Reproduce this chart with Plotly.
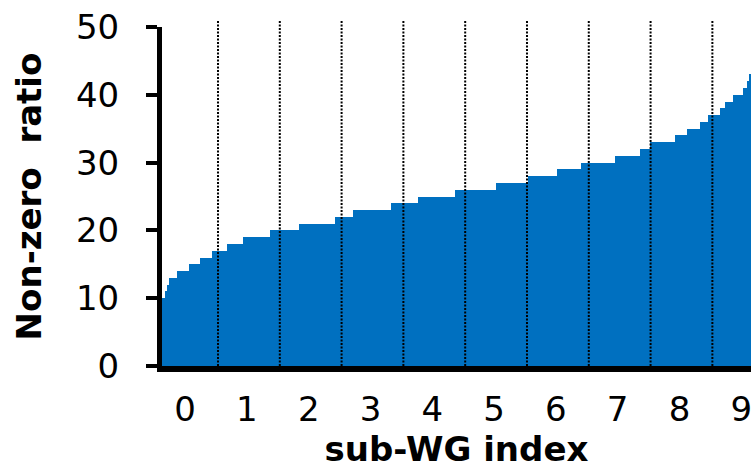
import plotly.graph_objects as go

# Sorted non-zero ratio per sub-WG, stored run-length encoded
start_index = 3
levels = [10, 11, 12, 13, 14, 15, 16, 17, 18, 19, 20, 21, 22, 23, 24, 25, 26, 27,
          28, 29, 30, 31, 32, 33, 34, 35, 36, 37, 38, 39, 40, 41, 42, 43]
counts = [2, 1, 1, 4, 6, 6, 6, 8, 8, 14, 15, 19, 9, 20, 14, 19, 21, 17,
          15, 12, 18, 13, 5, 13, 6, 7, 4, 6, 3, 4, 5, 2, 1, 1]
subwg_per_group = 32
group_labels = ["0", "1", "2", "3", "4", "5", "6", "7", "8", "9"]
y_ticks = [0, 10, 20, 30, 40, 50]

values = []
for lv, c in zip(levels, counts):
    values += [lv] * c
xs = [start_index + i + 0.5 for i in range(len(values))]
x_end = start_index + len(values)

BLUE = "#0070C0"
FONT = "DejaVu Sans"

fig = go.Figure()
fig.add_trace(go.Bar(x=xs, y=values, width=1, marker=dict(color=BLUE, line=dict(width=0)),
                     showlegend=False, hoverinfo="skip"))

group_centers = [subwg_per_group * (k + 0.5) for k in range(len(group_labels))]
boundaries = [subwg_per_group * (k + 1) for k in range(len(group_labels) - 1)]

shapes = []
for b in boundaries:
    shapes.append(dict(type="line", xref="x", yref="paper", x0=b, x1=b, y0=0, y1=1.02,
                       line=dict(color="black", width=2, dash="2px,1.5px"), layer="above"))

fig.update_layout(
    width=751, height=469,
    margin=dict(l=162, r=0, t=27, b=102.5, autoexpand=False),
    paper_bgcolor="white", plot_bgcolor="white",
    bargap=0, bargroupgap=0,
    shapes=shapes,
    font=dict(family=FONT, color="black", size=34),
    xaxis=dict(range=[start_index, x_end], tickvals=group_centers, ticktext=group_labels,
               automargin=False,
               showgrid=False, zeroline=False, showline=True, linecolor="black", linewidth=6,
               ticks="", ticklabelstandoff=8, ticklabeloverflow="allow", ticklabelshift=-2,
               tickfont=dict(size=34, family=FONT),
               title=dict(text="<b>sub-WG index</b>", font=dict(size=34, family=FONT), standoff=10)),
    yaxis=dict(range=[0, 50], tickvals=y_ticks, showgrid=False, zeroline=False,
               automargin=False,
               showline=True, linecolor="black", linewidth=5,
               ticks="outside", ticklen=11, tickwidth=4, tickcolor="black",
               ticklabelstandoff=20, tickfont=dict(size=34, family=FONT),
               title=dict(text="<b>Non-zero  ratio</b>", font=dict(size=34, family=FONT), standoff=26)),
)

fig.write_html("out.html", config={"displayModeBar": False},
               post_script="document.body.style.margin='0';")
